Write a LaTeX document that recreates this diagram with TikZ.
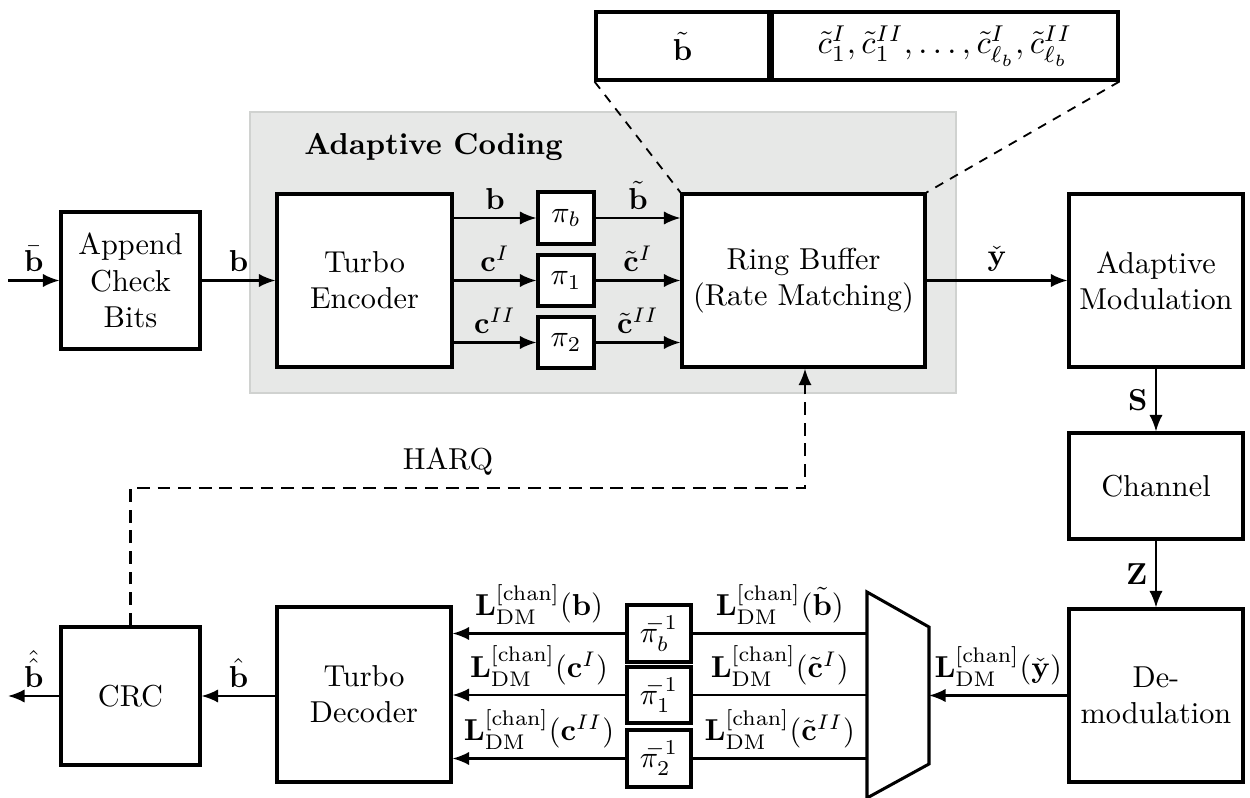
\documentclass[tikz,border=0pt]{standalone}
\usetikzlibrary{arrows.meta}
\def\pu{0.01161cm}
\definecolor{bggray}{RGB}{231,232,231}
\definecolor{bgline}{RGB}{208,210,208}
\tikzset{
  blk/.style={draw, line width=1pt, fill=white, align=center, inner sep=0pt,
    minimum width=#1},
  arr/.style={line width=0.7pt, -{Latex[length=5.5pt,width=4.4pt]}},
  plainline/.style={line width=0.7pt},
  harq/.style={line width=0.8pt, dash pattern=on 4.2pt off 2.6pt},
  zoomline/.style={line width=0.6pt, dash pattern=on 3pt off 2.6pt},
  lbl/.style={inner sep=2.5pt}
}
\begin{document}
\begin{tikzpicture}[x=0.01161cm, y=-0.01161cm]
\useasboundingbox (0,0) rectangle (1250,798);
% background region
\fill[bggray] (250,112) rectangle (956,393);
\draw[bgline, line width=0.6pt] (250,112) rectangle (956,393);
\node[font=\bfseries] (ac) at (433.5,147) {Adaptive Coding};

% top buffer cells
\node[blk={173*\pu}, minimum height={68*\pu}] (tl) at (682.5,46) {$\tilde{\mathbf{b}}$};
\node[blk={346*\pu}, minimum height={68*\pu}] (tr) at (945,46) {\scalebox{1.08}{$\tilde{c}_1^{I}, \tilde{c}_1^{II}, \ldots, \tilde{c}_{\ell_b}^{I}, \tilde{c}_{\ell_b}^{II}$}};

% blocks
\node[blk={139*\pu}, minimum height={137*\pu}] (append) at (130.5,280.5) {Append\\Check\\Bits};
\node[blk={175*\pu}, minimum height={173*\pu}] (tenc) at (364.5,280.5) {Turbo\\Encoder};
\node[blk={56*\pu}, minimum height={52*\pu}] (pib) at (566,218) {$\pi_b$};
\node[blk={56*\pu}, minimum height={51*\pu}] (pi1) at (566,280.5) {$\pi_1$};
\node[blk={56*\pu}, minimum height={51*\pu}] (pi2) at (566,342.5) {$\pi_2$};
\node[blk={243*\pu}, minimum height={173*\pu}] (ring) at (803.5,280.5) {Ring Buffer\\(Rate Matching)};
\node[blk={174*\pu}, minimum height={173*\pu}] (amod) at (1156,280.5) {Adaptive\\Modulation};
\node[blk={174*\pu}, minimum height={106*\pu}] (chan) at (1156,486) {Channel};
\node[blk={174*\pu}, minimum height={173*\pu}] (demod) at (1156,695.5) {De-\\modulation};
\node[blk={174*\pu}, minimum height={175*\pu}] (tdec) at (364,694.5) {Turbo\\Decoder};
\node[blk={139*\pu}, minimum height={138*\pu}] (crc) at (130.5,696) {CRC};
\node[blk={64*\pu}, minimum height={57*\pu}] (ipb) at (659,633.5) {$\pi_b^{\mkern-9mu-1}$};
\node[blk={64*\pu}, minimum height={56*\pu}] (ip1) at (659,695) {$\pi_1^{\mkern-9mu-1}$};
\node[blk={64*\pu}, minimum height={57*\pu}] (ip2) at (659,758.5) {$\pi_2^{\mkern-9mu-1}$};

% demux
\coordinate (d1) at (867,592);
\coordinate (d2) at (929,627);
\coordinate (d3) at (929,764);
\coordinate (d4) at (867,798);
\coordinate (dmxL) at (867,696);
\coordinate (dmxR) at (929,695.5);
\draw[line width=1pt, line join=miter] (d1) -- (d2) -- (d3) -- (d4) -- cycle;

% zoom dashed lines
\draw[zoomline] (tl.south west) -- (ring.north west);
\draw[zoomline] (tr.south east) -- (ring.north east);

% top chain
\coordinate (in) at (8,280.5);
\draw[arr] (in) -- node[above, lbl] {$\bar{\mathbf{b}}$} (append.west);
\draw[arr] (append.east) -- node[above, lbl] {$\mathbf{b}$} (tenc.west);
\draw[arr] (tenc.east |- pib.west) -- node[above, lbl] {$\mathbf{b}$} (pib.west);
\draw[arr] (tenc.east |- pi1.west) -- node[above, lbl] {$\mathbf{c}^{I}$} (pi1.west);
\draw[arr] (tenc.east |- pi2.west) -- node[above, lbl] {$\mathbf{c}^{II}$} (pi2.west);
\draw[arr] (pib.east) -- node[above, lbl] {$\tilde{\mathbf{b}}$} (pib.east -| ring.west);
\draw[arr] (pi1.east) -- node[above, lbl] {$\tilde{\mathbf{c}}^{I}$} (pi1.east -| ring.west);
\draw[arr] (pi2.east) -- node[above, lbl] {$\tilde{\mathbf{c}}^{II}$} (pi2.east -| ring.west);
\draw[arr] (ring.east) -- node[above, lbl] {$\check{\mathbf{y}}$} (amod.west);
\draw[arr] (amod.south) -- node[left, lbl] {$\mathbf{S}$} (chan.north);
\draw[arr] (chan.south) -- node[left, lbl] {$\mathbf{Z}$} (demod.north);

% bottom chain
\draw[arr] (demod.west) -- node[above, lbl] {$\mathbf{L}_{\mathrm{DM}}^{[\mathrm{chan}]}(\check{\mathbf{y}})$} (dmxR);
\draw[plainline] (dmxL |- ipb.east) -- node[above, lbl] {$\mathbf{L}_{\mathrm{DM}}^{[\mathrm{chan}]}(\tilde{\mathbf{b}})$} (ipb.east);
\draw[plainline] (dmxL |- ip1.east) -- node[above, lbl] {$\mathbf{L}_{\mathrm{DM}}^{[\mathrm{chan}]}(\tilde{\mathbf{c}}^{I})$} (ip1.east);
\draw[plainline] (dmxL |- ip2.east) -- node[above, lbl] {$\mathbf{L}_{\mathrm{DM}}^{[\mathrm{chan}]}(\tilde{\mathbf{c}}^{II})$} (ip2.east);
\draw[arr] (ipb.west) -- node[above, lbl] {$\mathbf{L}_{\mathrm{DM}}^{[\mathrm{chan}]}(\mathbf{b})$} (ipb.west -| tdec.east);
\draw[arr] (ip1.west) -- node[above, lbl] {$\mathbf{L}_{\mathrm{DM}}^{[\mathrm{chan}]}(\mathbf{c}^{I})$} (ip1.west -| tdec.east);
\draw[arr] (ip2.west) -- node[above, lbl] {$\mathbf{L}_{\mathrm{DM}}^{[\mathrm{chan}]}(\mathbf{c}^{II})$} (ip2.west -| tdec.east);
\draw[arr] (tdec.west |- crc.east) -- node[above, lbl] {$\hat{\mathbf{b}}$} (crc.east);
\coordinate (out) at (8,696);
\draw[arr] (crc.west) -- node[above, lbl] {$\hat{\hat{\mathbf{b}}}$} (out);

% HARQ
\coordinate (hq) at (805,488);
\draw[harq, -{Latex[length=5.5pt,width=4.4pt]}] (crc.north) |- (hq) -- (hq |- ring.south);
\node[above, inner sep=4pt] (harqlbl) at (448,488) {HARQ};
\end{tikzpicture}
\end{document}
